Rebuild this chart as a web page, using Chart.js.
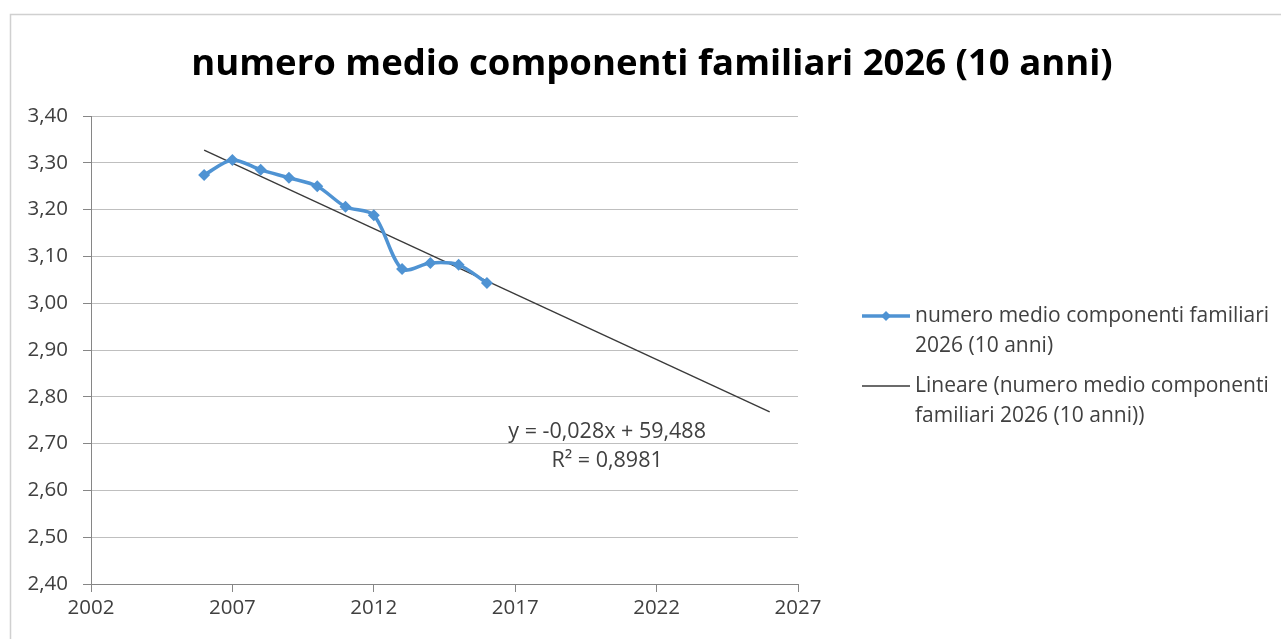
<!DOCTYPE html>
<html>
<head>
<meta charset="utf-8">
<script src="https://cdn.jsdelivr.net/npm/chart.js@4.4.1/dist/chart.umd.min.js"></script>
<style>
  html, body { margin: 0; padding: 0; background: #fff; }
  #chart { display: block; }
</style>
</head>
<body>
<canvas id="chart" width="1281" height="639"></canvas>
<script>
// values
const years = [2006, 2007, 2008, 2009, 2010, 2011, 2012, 2013, 2014, 2015, 2016];
const members = [3.274, 3.306, 3.285, 3.268, 3.250, 3.206, 3.188, 3.073, 3.086, 3.082, 3.043];
const trendYears = [2006, 2026];
const trendValues = [3.327, 2.768];

const titleText = "numero medio componenti familiari 2026 (10 anni)";
const seriesLabel = "numero medio componenti familiari 2026 (10 anni)";
const trendLabel = "Lineare (numero medio componenti familiari 2026 (10 anni))";
const equationLines = ["y = -0,028x + 59,488", "R\u00b2 = 0,8981"];
const equationAt = { x: 2020.25, y: 2.725 };

const FONT = "'Open Sans', sans-serif";
const TEXT = "#404040";

// frame, title, legend and equation label
const extras = {
  id: "extras",
  beforeDraw(chart) {
    const ctx = chart.ctx;
    ctx.save();
    ctx.strokeStyle = "#d0d0d0";
    ctx.lineWidth = 1.5;
    ctx.strokeRect(10.5, 14.5, chart.width + 20, chart.height + 20);

    ctx.fillStyle = "#000";
    ctx.font = "bold 36.5px " + FONT;
    ctx.textAlign = "center";
    ctx.textBaseline = "middle";
    ctx.fillText(titleText, 652, 65);
    ctx.restore();
  },
  afterDraw(chart) {
    const ctx = chart.ctx;
    const xs = chart.scales.x, ys = chart.scales.y;
    ctx.save();
    ctx.fillStyle = TEXT;
    ctx.textBaseline = "middle";

    // equation
    ctx.font = "21.5px " + FONT;
    ctx.textAlign = "center";
    const ex = xs.getPixelForValue(equationAt.x);
    const ey = ys.getPixelForValue(equationAt.y);
    equationLines.forEach((t, i) => ctx.fillText(t, ex, ey + i * 29));

    // legend
    ctx.font = "21px " + FONT;
    ctx.textAlign = "left";
    let y = 316;
    chart.data.datasets.forEach((ds) => {
      ctx.strokeStyle = ds.borderColor;
      ctx.lineWidth = ds.borderWidth;
      ctx.beginPath();
      ctx.moveTo(862, y);
      ctx.lineTo(910, y);
      ctx.stroke();
      if (ds.pointRadius > 0) {
        ctx.fillStyle = ds.borderColor;
        ctx.beginPath();
        ctx.moveTo(886, y - 5);
        ctx.lineTo(891, y);
        ctx.lineTo(886, y + 5);
        ctx.lineTo(881, y);
        ctx.closePath();
        ctx.fill();
      }
      ctx.fillStyle = TEXT;
      // wrap label
      const words = ds.label.split(" ");
      const lines = [];
      let cur = "";
      words.forEach((w) => {
        const test = cur ? cur + " " + w : w;
        if (ctx.measureText(test).width > 362 && cur) {
          lines.push(cur);
          cur = w;
        } else {
          cur = test;
        }
      });
      lines.push(cur);
      lines.forEach((t, i) => ctx.fillText(t, 915, y + i * 30));
      y += lines.length * 30 + 10;
    });
    ctx.restore();
  }
};

new Chart(document.getElementById("chart"), {
  type: "line",
  data: {
    datasets: [
      {
        label: seriesLabel,
        data: years.map((x, i) => ({ x: x, y: members[i] })),
        borderColor: "#4f93d3",
        backgroundColor: "#4f93d3",
        borderWidth: 3.5,
        tension: 0.3,
        pointStyle: "rectRot",
        pointRadius: 6,
        pointBorderWidth: 0
      },
      {
        label: trendLabel,
        data: trendYears.map((x, i) => ({ x: x, y: trendValues[i] })),
        borderColor: "#3a3a3a",
        borderWidth: 1.4,
        pointRadius: 0,
        tension: 0
      }
    ]
  },
  options: {
    responsive: false,
    animation: false,
    layout: { padding: { left: 10, right: 483, top: 116, bottom: 0 } },
    plugins: {
      legend: { display: false },
      tooltip: { enabled: false },
      title: { display: false }
    },
    scales: {
      x: {
        type: "linear",
        min: 2002,
        max: 2027,
        afterFit: (s) => { s.height = 55; },
        ticks: {
          stepSize: 5,
          color: TEXT,
          padding: 4,
          font: { family: FONT, size: 20.5 },
          callback: (v) => String(v)
        },
        grid: { drawOnChartArea: false, tickLength: 8, color: "#868686" },
        border: { color: "#868686" }
      },
      y: {
        min: 2.4,
        max: 3.4,
        afterFit: (s) => { s.width = 81; },
        ticks: {
          stepSize: 0.1,
          color: TEXT,
          padding: 15,
          font: { family: FONT, size: 20.5 },
          callback: (v) => v.toFixed(2).replace(".", ",")
        },
        grid: { color: "#bfbfbf", tickColor: "#868686", tickLength: 8 },
        border: { color: "#868686" }
      }
    }
  },
  plugins: [extras]
});
</script>
</body>
</html>
